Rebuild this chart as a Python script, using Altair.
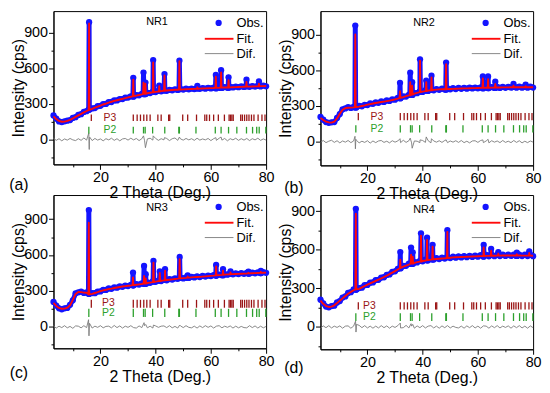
import altair as alt
import pandas as pd

# ---------------- data ----------------
two_theta = [3, 4, 5, 6, 7, 8, 9, 10, 11, 12,
             13, 14, 15, 16, 17, 18, 19, 20, 21, 22,
             23, 24, 25, 26, 27, 28, 29, 30, 31, 32,
             33, 34, 35, 36, 37, 38, 39, 40, 41, 42,
             43, 44, 45, 46, 47, 48, 49, 50, 51, 52,
             53, 54, 55, 56, 57, 58, 59, 60, 61, 62,
             63, 64, 65, 66, 67, 68, 69, 70, 71, 72,
             73, 74, 75, 76, 77, 78, 79, 80]

# NR1
nr1_fit = [195, 172, 156, 149, 150, 156, 165, 177, 190, 203,
           216, 228, 240, 250, 258, 268, 277, 286, 295, 303,
           311, 318, 325, 331, 337, 343, 349, 355, 360, 365,
           370, 375, 380, 385, 390, 394, 398, 402, 405, 408,
           411, 413, 415, 417, 419, 420, 421, 423, 424, 425,
           426, 427, 428, 429, 430, 431, 432, 433, 434, 435,
           436, 437, 438, 439, 440, 441, 442, 443, 444, 445,
           446, 446, 447, 448, 449, 450, 450, 451]
nr1_obs = [202, 176, 152, 146, 153, 158, 163, 181, 188, 207,
           213, 232, 238, 252, 262, 265, 281, 284, 299, 300,
           315, 316, 329, 329, 341, 341, 352, 353, 364, 363,
           374, 373, 384, 383, 394, 392, 402, 400, 409, 406,
           415, 411, 419, 415, 423, 418, 425, 421, 428, 423,
           430, 425, 432, 427, 434, 429, 436, 431, 438, 433,
           440, 435, 442, 437, 444, 439, 446, 441, 448, 443,
           450, 444, 451, 446, 453, 448, 454, 449]
nr1_dif = [10, -8, 6, -12, 4, -6, 8, -4, -10, 6,
           -8, 12, -6, 16, -10, 8, -6, 4, -12, 6,
           -4, 10, -8, 6, -12, 4, 8, -6, 10, -4,
           8, -10, 6, -12, 4, 10, -6, 8, -8, 6,
           -4, 8, -10, 6, 12, -8, 4, -6, 8, -4,
           6, -8, 10, -6, 4, -4, 8, -10, 6, -8,
           10, -6, 8, -12, 6, -4, 10, -8, 6, -6,
           8, -10, 6, -4, 10, -8, 4, -6]
nr1_fit_peaks = [(15.9, 980), (31.9, 505), (35.6, 480), (36.3, 470), (39.1, 650),
                 (41.3, 450), (43.2, 540), (48.6, 660), (55.1, 440), (61.8, 530),
                 (63.7, 565), (66.4, 500), (72.9, 485), (77.4, 470)]
nr1_obs_peaks = [(15.9, 990), (31.9, 520), (35.6, 565), (36.3, 480), (39.1, 670),
                 (41.3, 455), (43.2, 552), (48.6, 665), (55.1, 452), (61.8, 545),
                 (63.7, 585), (66.4, 525), (72.9, 505), (77.4, 490)]
nr1_dif_spikes = [(15.8, 55), (15.95, -85), (16.1, 20), (35.6, 30), (36.3, -70),
                  (39.1, 30), (43.2, 15), (48.6, 20), (61.8, 15), (63.7, 20)]

# NR2
nr2_fit = [200, 182, 168, 162, 160, 168, 195, 235, 268, 282,
           285, 286, 288, 291, 295, 300, 305, 311, 316, 321,
           325, 329, 333, 337, 341, 345, 350, 356, 362, 368,
           375, 382, 389, 396, 403, 410, 416, 421, 425, 429,
           432, 435, 437, 439, 440, 441, 442, 443, 444, 445,
           446, 447, 448, 448, 449, 450, 450, 451, 452, 452,
           453, 453, 454, 454, 455, 455, 456, 456, 456, 457,
           457, 457, 457, 457, 457, 457, 457, 457]
nr2_obs = [208, 185, 165, 158, 163, 165, 199, 232, 272, 279,
           290, 283, 292, 288, 300, 297, 310, 308, 321, 318,
           330, 326, 338, 334, 346, 342, 355, 353, 367, 365,
           380, 379, 394, 393, 408, 407, 421, 418, 430, 426,
           437, 432, 442, 436, 445, 438, 447, 440, 449, 442,
           451, 444, 453, 445, 454, 447, 455, 448, 457, 449,
           458, 450, 459, 451, 460, 452, 461, 453, 461, 454,
           462, 454, 462, 454, 462, 454, 462, 455]
nr2_dif = [-6, 10, -8, 4, 12, -6, 8, -10, 6, -4,
           10, -8, 6, 12, -10, 4, -6, 8, -12, 6,
           -8, 6, 10, -6, 4, -10, 8, -4, 6, -8,
           12, -6, 8, -10, 6, 4, -8, 10, -6, 8,
           -10, 6, -4, 8, -6, 10, -8, 6, -4, 8,
           -6, 10, -8, 4, -10, 6, 8, -6, 10, -8,
           6, -10, 8, -4, 6, -8, 10, -6, 4, -8,
           10, -6, 8, -10, 4, -8, 6, -4]
nr2_fit_peaks = [(15.6, 900), (31.8, 425), (35.5, 500), (36.2, 470), (39.05, 680),
                 (41.3, 500), (43.2, 540), (48.5, 650), (61.8, 532), (63.7, 526),
                 (66.3, 485), (72.9, 470), (77.3, 466)]
nr2_obs_peaks = [(15.6, 975), (31.8, 495), (35.5, 580), (36.2, 500), (39.05, 692),
                 (41.3, 513), (43.2, 554), (48.5, 665), (61.8, 548), (63.7, 548),
                 (66.3, 504), (72.9, 485), (77.3, 480)]
nr2_dif_spikes = [(15.5, 45), (15.65, -60), (15.8, 20), (31.8, 25), (35.5, 30),
                  (36.2, -55), (39.05, 15), (41.3, 40), (43.2, 25), (48.5, 15),
                  (61.8, 15), (63.7, 20)]

# NR3
nr3_fit = [200, 175, 158, 151, 152, 160, 180, 225, 275, 292,
           290, 286, 285, 272, 276, 283, 290, 298, 305, 310,
           316, 320, 325, 329, 333, 337, 340, 343, 346, 349,
           352, 355, 358, 362, 366, 370, 374, 378, 382, 385,
           388, 391, 394, 397, 400, 403, 405, 407, 409, 411,
           413, 415, 417, 418, 420, 422, 424, 426, 428, 430,
           432, 434, 436, 438, 440, 441, 442, 443, 444, 445,
           446, 447, 448, 449, 450, 451, 452, 453]
nr3_obs = [208, 178, 155, 147, 155, 158, 184, 222, 280, 289,
           295, 283, 289, 276, 282, 281, 295, 296, 310, 308,
           321, 318, 330, 327, 338, 335, 345, 341, 351, 347,
           357, 353, 363, 360, 371, 368, 379, 376, 387, 383,
           393, 389, 399, 395, 405, 401, 410, 405, 414, 409,
           418, 413, 422, 416, 425, 420, 429, 424, 433, 428,
           437, 432, 441, 436, 445, 439, 447, 441, 449, 443,
           451, 445, 453, 447, 455, 449, 457, 451]
nr3_dif = [8, -10, 6, -6, 10, -8, 4, -12, 8, 6,
           -8, 10, -6, 8, -10, 6, -4, 10, -8, 4,
           6, -8, 12, -6, 8, -10, 6, -4, 10, -6,
           -10, 8, -6, 10, -8, 6, -10, 8, -4, 6,
           8, -6, 10, -8, 4, -10, 8, -6, 10, -4,
           -8, 6, -10, 8, -6, 10, -4, 8, -10, 6,
           10, -8, 6, -4, 8, -10, 6, -8, 4, -6,
           -8, 10, -6, 8, -10, 6, -8, 4]
nr3_fit_peaks = [(15.8, 870), (31.8, 413), (35.8, 425), (36.4, 405), (39.2, 537),
                 (41.5, 450), (43.4, 470), (48.7, 565), (51.6, 420), (61.9, 505),
                 (64.4, 470), (67.1, 455), (73.6, 452), (78.1, 460)]
nr3_obs_peaks = [(15.8, 975), (31.8, 454), (35.8, 509), (36.4, 440), (39.2, 551),
                 (41.5, 463), (43.4, 482), (48.7, 584), (51.6, 430), (61.9, 517),
                 (64.4, 482), (67.1, 463), (73.6, 462), (78.1, 468)]
nr3_dif_spikes = [(15.7, 60), (15.85, -75), (16.05, 30), (35.8, 35), (36.4, 20),
                  (39.2, 15), (48.7, 15)]

# NR4
nr4_fit = [204, 180, 162, 155, 158, 168, 185, 204, 222, 240,
           258, 272, 285, 292, 296, 307, 318, 328, 338, 348,
           358, 368, 378, 388, 398, 410, 422, 434, 446, 458,
           468, 477, 485, 492, 498, 503, 508, 512, 516, 520,
           523, 526, 528, 530, 532, 534, 536, 538, 540, 541,
           542, 543, 544, 545, 546, 547, 548, 549, 550, 551,
           552, 552, 553, 553, 554, 554, 555, 555, 555, 555,
           555, 555, 555, 554, 554, 554, 554, 553]
nr4_obs = [212, 183, 158, 152, 162, 165, 190, 201, 228, 237,
           264, 270, 291, 290, 302, 305, 324, 326, 344, 346,
           364, 366, 384, 386, 404, 408, 428, 432, 452, 456,
           474, 475, 491, 490, 504, 501, 514, 510, 522, 518,
           530, 524, 535, 527, 539, 531, 543, 535, 547, 538,
           549, 540, 551, 542, 553, 544, 555, 546, 557, 548,
           559, 549, 560, 550, 561, 551, 562, 552, 562, 552,
           562, 552, 562, 551, 561, 551, 561, 550]
nr4_dif = [-10, 8, -6, 10, -8, 6, -4, 8, -10, 6,
           8, -10, 6, -8, 12, -6, 10, -8, 6, -10,
           6, -8, 10, -6, 8, -10, 6, -4, 10, -8,
           -6, 12, -8, 6, -10, 8, -6, 10, -8, 6,
           10, -8, 6, -10, 8, -6, 10, -8, 6, -4,
           -8, 6, -10, 8, -6, 10, -8, 6, -10, 8,
           6, -10, 8, -6, 10, -8, 6, -4, 8, -10,
           8, -6, 10, -8, 6, -10, 8, -6]
nr4_fit_peaks = [(15.8, 880), (31.9, 523), (35.8, 561), (36.4, 545), (39.4, 709),
                 (41.6, 676), (43.6, 624), (48.95, 739), (62.1, 617), (64.8, 592),
                 (67.4, 570), (74.1, 565), (78.6, 575)]
nr4_obs_peaks = [(15.8, 918), (31.9, 582), (35.8, 617), (36.4, 580), (39.4, 727),
                 (41.6, 693), (43.6, 638), (48.95, 752), (62.1, 638), (64.8, 607),
                 (67.4, 582), (74.1, 578), (78.6, 588)]
nr4_dif_spikes = [(15.7, 45), (15.85, -40), (16.0, 20), (31.9, 30), (35.8, 25),
                  (36.4, 20), (48.95, 10)]

# Bragg reflection markers
p3_positions = [16.7, 31.9, 33.3, 34.5, 35.7, 36.8, 38.0, 40.8, 42.0, 44.7, 45.1,
                49.8, 51.6, 54.8, 57.8, 58.5, 59.5, 61.0, 62.7, 64.9, 66.6, 67.1,
                67.6, 68.1, 70.8, 71.4, 72.2, 73.0, 73.8, 74.7, 75.6, 77.1, 78.5, 79.6]
p2_positions = [15.8, 31.9, 35.6, 36.2, 38.9, 43.3, 48.4, 48.6, 54.6, 61.6, 63.7,
                66.4, 69.4, 72.9, 75.1, 76.6, 77.5, 79.9]

legend_labels = ["Obs.", "Fit.", "Dif."]
phase_labels = ["P3", "P2"]
sample_names = ["NR1", "NR2", "NR3", "NR4"]
panel_tags = ["(a)", "(b)", "(c)", "(d)"]

# ---------------- styling ----------------
FONT = "Liberation Sans"
BLUE = "#1414ff"
RED = "#ff0a0a"
GRAY = "#7a7a7a"
DARKRED = "#9a1515"
GREEN = "#2ca02c"
W = 215

layout = [
    dict(ydom=(-211, 1084), h=155, p3=(155, 210), p2=(50, 106), lab_y=(182, 78),
         lab_x=23.4, tag_x=-35, tag_dy=21, nr_y=11),
    dict(ydom=(-199, 1097), h=156, p3=(180, 241), p2=(77, 139), lab_y=(210, 108),
         lab_x=23.4, tag_x=-27, tag_dy=23, nr_y=12),
    dict(ydom=(-179, 1101), h=155, p3=(160, 226), p2=(83, 151), lab_y=(201, 113),
         lab_x=22.9, tag_x=-35, tag_dy=25, nr_y=13),
    dict(ydom=(-174, 1025), h=156, p3=(135, 191), p2=(46, 107), lab_y=(165, 76),
         lab_x=20.7, tag_x=-27, tag_dy=19, nr_y=15),
]
series = [
    (nr1_fit, nr1_obs, nr1_dif, nr1_fit_peaks, nr1_obs_peaks, nr1_dif_spikes),
    (nr2_fit, nr2_obs, nr2_dif, nr2_fit_peaks, nr2_obs_peaks, nr2_dif_spikes),
    (nr3_fit, nr3_obs, nr3_dif, nr3_fit_peaks, nr3_obs_peaks, nr3_dif_spikes),
    (nr4_fit, nr4_obs, nr4_dif, nr4_fit_peaks, nr4_obs_peaks, nr4_dif_spikes),
]


def nearest(bg, pos):
    i = min(range(len(two_theta)), key=lambda k: abs(two_theta[k] - pos))
    return bg[i]


def profile(bg, peaks):
    pts = list(zip(two_theta, bg))
    for pos, top in peaks:
        base = nearest(bg, pos)
        pts += [(pos - 0.15, base), (pos, top), (pos + 0.15, base)]
    pts.sort()
    df = pd.DataFrame(pts, columns=["tt", "I"])
    df["k"] = range(len(df))
    return df


def diff_table(vals, spikes):
    pts = list(zip(two_theta, vals)) + list(spikes)
    pts.sort()
    df = pd.DataFrame(pts, columns=["tt", "I"])
    df["k"] = range(len(df))
    return df


def one():
    return pd.DataFrame({"k": [0]})


def make_panel(idx):
    lay = layout[idx]
    fit, obs, dif, fpk, opk, dsp = series[idx]
    h = lay["h"]
    lo, hi = lay["ydom"]
    xs = alt.Scale(domain=[3, 80], nice=False, zero=False)
    ys = alt.Scale(domain=[lo, hi], nice=False, zero=False)
    yvals = [v for v in [-150, 0, 150, 300, 450, 600, 750, 900] if lo <= v <= hi]
    x_axis = alt.Axis(
        values=[10, 20, 30, 40, 50, 60, 70, 80],
        labelExpr="datum.value % 20 === 0 ? datum.label : ''",
        tickSize={"condition": {"test": "datum.value % 20 !== 0", "value": 2.5}, "value": 5},
        title="2 Theta (Deg.)", labelOverlap=False, labelFlush=False,
        labelPadding=1, titlePadding=1,
    )
    y_axis = alt.Axis(
        values=yvals,
        labelExpr="datum.value % 300 === 0 ? datum.label : ''",
        tickSize={"condition": {"test": "datum.value % 300 !== 0", "value": 2.5}, "value": 5},
        title="Intensity (cps)", labelOverlap=False, labelFlush=False,
        labelPadding=1, titlePadding=-3,
    )
    X = alt.X("tt:Q", scale=xs, axis=x_axis)
    Y = alt.Y("I:Q", scale=ys, axis=y_axis)

    obs_df = profile(obs, opk)
    fit_df = profile(fit, fpk)
    dif_df = diff_table(dif, dsp)

    obs_line = alt.Chart(obs_df).mark_line(
        color=BLUE, strokeWidth=5, strokeJoin="round", strokeCap="round"
    ).encode(x=X, y=Y, order="k:Q")
    obs_pts = alt.Chart(obs_df).mark_circle(color=BLUE, size=40, opacity=1).encode(x=X, y=Y)
    fit_line = alt.Chart(fit_df).mark_line(
        color=RED, strokeWidth=1.9, strokeJoin="round"
    ).encode(x=X, y=Y, order="k:Q")
    dif_line = alt.Chart(dif_df).mark_line(
        color=GRAY, strokeWidth=0.9, strokeJoin="round"
    ).encode(x=X, y=Y, order="k:Q")

    p3_df = pd.DataFrame({"tt": p3_positions})
    p3_df["I"] = lay["p3"][0]
    p3_df["I2"] = lay["p3"][1]
    p2_df = pd.DataFrame({"tt": p2_positions})
    p2_df["I"] = lay["p2"][0]
    p2_df["I2"] = lay["p2"][1]
    p3_rules = alt.Chart(p3_df).mark_rule(color=DARKRED, strokeWidth=1.3).encode(x=X, y=Y, y2="I2:Q")
    p2_rules = alt.Chart(p2_df).mark_rule(color=GREEN, strokeWidth=1.3).encode(x=X, y=Y, y2="I2:Q")

    lab_df = pd.DataFrame({
        "tt": [lay["lab_x"], lay["lab_x"]],
        "I": list(lay["lab_y"]),
        "t": phase_labels,
        "c": [DARKRED, GREEN],
    })
    phase_text = alt.Chart(lab_df).mark_text(font=FONT, fontSize=10.5, align="center", baseline="middle").encode(
        x=X, y=Y, text="t:N", color=alt.Color("c:N", scale=None))

    nr_df = pd.DataFrame({"tt": [40.5], "t": [sample_names[idx]]})
    nr_text = alt.Chart(nr_df).mark_text(font=FONT, fontSize=11, baseline="middle", color="black").encode(
        x=X, y=alt.value(lay["nr_y"]), text="t:N")

    tag_text = alt.Chart(pd.DataFrame({"t": [panel_tags[idx]]})).mark_text(
        font=FONT, fontSize=16, align="center", baseline="middle", color="black").encode(
        x=alt.value(lay["tag_x"]), y=alt.value(h + lay["tag_dy"]), text="t:N")

    # in-plot legend
    ly = [12, 28, 43]
    leg_dot = alt.Chart(one()).mark_circle(color=BLUE, size=40, opacity=1).encode(
        x=alt.value(W - 48), y=alt.value(ly[0]))
    leg_fit = alt.Chart(one()).mark_rule(color=RED, strokeWidth=1.9).encode(
        x=alt.value(W - 62), x2=alt.value(W - 33), y=alt.value(ly[1]))
    leg_dif = alt.Chart(one()).mark_rule(color=GRAY, strokeWidth=0.9).encode(
        x=alt.value(W - 62), x2=alt.value(W - 33), y=alt.value(ly[2]))
    leg_df = pd.DataFrame({"t": legend_labels, "k": [0, 1, 2]})
    leg_text = alt.Chart(leg_df).transform_calculate(
        py=f"datum.k == 0 ? {ly[0]} : (datum.k == 1 ? {ly[1]} : {ly[2]})"
    ).mark_text(font=FONT, fontSize=13, align="left", baseline="middle", color="black").encode(
        x=alt.value(W - 30), y=alt.Y("py:Q", scale=None, axis=None), text="t:N")

    return alt.layer(
        obs_line, obs_pts, fit_line, dif_line, p3_rules, p2_rules, phase_text,
        nr_text, tag_text, leg_dot, leg_fit, leg_dif, leg_text,
    ).properties(width=W, height=h)


panels = [make_panel(i) for i in range(4)]

chart = alt.concat(
    *panels, columns=2, spacing={"row": 30, "column": 55}, bounds="flush", align="all"
).properties(padding=0).configure_view(
    stroke="black", strokeWidth=1
).configure_axis(
    grid=False, domainColor="black", domainWidth=1, tickColor="black", tickWidth=1,
    labelColor="black", titleColor="black", labelFont=FONT, titleFont=FONT,
    labelFontSize=14.5, titleFontSize=16, titleFontWeight="normal",
)

chart.save("out.html", embed_options={"renderer": "svg", "actions": False})
